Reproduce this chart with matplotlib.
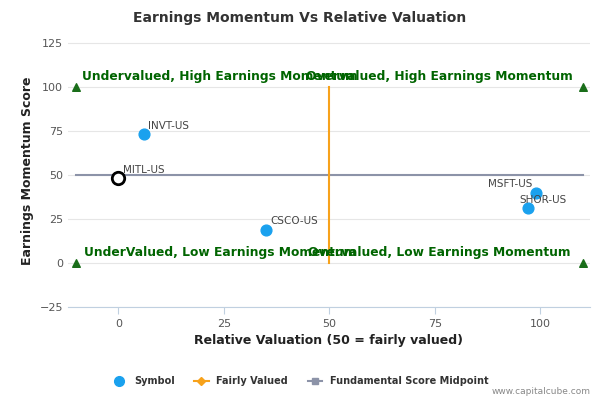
import matplotlib
matplotlib.use("Agg")
import matplotlib.pyplot as plt
from matplotlib.lines import Line2D

symbols = ["INVT-US", "MITL-US", "CSCO-US", "MSFT-US", "SHOR-US"]
xs = [6, 0, 35, 99, 97]
ys = [73, 48, 19, 40, 31]
xticks = [0, 25, 50, 75, 100]
yticks = [-25, 0, 25, 50, 75, 100, 125]
tri_x = [-10, 110, -10, 110]
tri_y = [100, 100, 0, 0]
quad_labels = ["Undervalued, High Earnings Momentum", "Overvalued, High Earnings Momentum",
               "UnderValued, Low Earnings Momentum", "Overvalued, Low Earnings Momentum"]
quad_x = [24, 76, 24, 76]
quad_y = [100, 100, 0, 0]

fig = plt.figure(figsize=(6, 4), dpi=100)
ax = fig.add_axes([0.113, 0.2325, 0.87, 0.68])
ax.set_xlim(-12, 111.7)
ax.set_ylim(-25, 129.5)
ax.set_xticks(xticks)
ax.set_yticks(yticks)
ax.grid(axis="y", color="#e6e6e6", lw=0.8)
ax.set_axisbelow(True)
for s in ["top", "right", "left"]:
    ax.spines[s].set_visible(False)
ax.spines["bottom"].set_color("#c0d0e0")
ax.tick_params(axis="both", length=0, labelsize=8, colors="#555555")
ax.tick_params(axis="x", length=5, color="#c0d0e0")

ax.plot([-10, 110], [50, 50], color="#8c93a8", lw=1.5, zorder=2)
ax.plot([50, 50], [0, 100], color="#f7a21b", lw=1.5, zorder=2)
ax.scatter(tri_x, tri_y, marker="^", color="#1a6e1a", s=30, zorder=3)
for t, x, y in zip(quad_labels, quad_x, quad_y):
    ax.text(x, y + 2, t, color="#006400", fontweight="bold", fontsize=8.8, ha="center", va="bottom", zorder=4)

for s, x, y in zip(symbols, xs, ys):
    if s == "MITL-US":
        ax.scatter([x], [y], s=80, facecolor="white", edgecolor="black", linewidth=2, zorder=5)
    else:
        ax.scatter([x], [y], s=60, color="#1aa1ee", zorder=5)
offsets = {"INVT-US": (1, 2, "left"), "MITL-US": (1, 2, "left"), "CSCO-US": (1, 2, "left"),
           "MSFT-US": (-1, 2, "right"), "SHOR-US": (-2, 2, "left")}
for s, x, y in zip(symbols, xs, ys):
    dx, dy, ha = offsets[s]
    ax.text(x + dx, y + dy, s, fontsize=7.5, color="#444444", ha=ha, va="bottom", zorder=6)

ax.set_xlabel("Relative Valuation (50 = fairly valued)", fontsize=9, fontweight="bold", color="#222222")
ax.set_ylabel("Earnings Momentum Score", fontsize=9, fontweight="bold", color="#222222")
fig.text(0.5, 0.945, "Earnings Momentum Vs Relative Valuation", ha="center", fontsize=10,
         fontweight="bold", color="#333333")

handles = [Line2D([], [], marker="o", color="#1aa1ee", ls="", markersize=7),
           Line2D([], [], marker="D", color="#f7a21b", markersize=4, lw=1.5),
           Line2D([], [], marker="s", color="#8c93a8", markersize=5, lw=1.5)]
fig.legend(handles, ["Symbol", "Fairly Valued", "Fundamental Score Midpoint"], loc="center",
           bbox_to_anchor=(0.5, 0.047), ncol=3, frameon=False,
           prop={"size": 7, "weight": "bold"}, labelcolor="#333333", handlelength=1.5, columnspacing=2)
fig.text(0.985, 0.015, "www.capitalcube.com", ha="right", fontsize=6.5, color="#888888")
fig.savefig("out.png", dpi=100)
